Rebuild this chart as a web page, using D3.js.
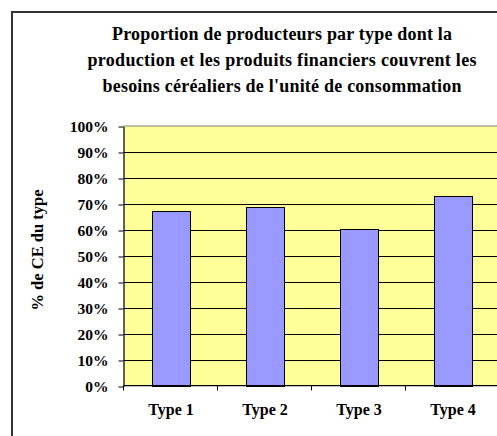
<!DOCTYPE html>
<html><head><meta charset="utf-8">
<script src="https://cdn.jsdelivr.net/npm/d3@7"></script>
<style>html,body{margin:0;padding:0;background:#fff;overflow:hidden}</style>
</head><body>
<script>
const categories = ["Type 1", "Type 2", "Type 3", "Type 4"];
const values = [0.673, 0.687, 0.604, 0.729];
const yTicks = [0, 0.1, 0.2, 0.3, 0.4, 0.5, 0.6, 0.7, 0.8, 0.9, 1.0];
const titleLines = [
  "Proportion de producteurs par type dont la",
  "production et les produits financiers couvrent les",
  "besoins céréaliers de l'unité de consommation"
];
const titleWidths = [340, 389, 359];
const yTitle = "% de CE du type";

const W = 497, H = 436;
const FONT = '"Liberation Serif"';
const svg = d3.select("body").append("svg").attr("width", W).attr("height", H);
function serif(sel, size) {
  return sel.style("font-family", FONT).style("font-weight", "bold")
    .style("font-size", size + "px").style("fill", "#000");
}

// outer chart border (extends beyond image right/bottom)
svg.append("rect").attr("x", 12).attr("y", 12).attr("width", 600).attr("height", 600)
  .attr("fill", "#fff").attr("stroke", "#333").attr("stroke-width", 2);

const plot = {left: 124, top: 126, right: 500, bottom: 386};
const x = d3.scaleBand().domain(categories).range([plot.left, plot.right])
  .paddingInner(0.6).paddingOuter(0.3);
const y = d3.scaleLinear().domain([0, 1]).range([plot.bottom, plot.top]);

// plot area
svg.append("rect").attr("x", plot.left).attr("y", plot.top)
  .attr("width", plot.right - plot.left).attr("height", plot.bottom - plot.top)
  .attr("fill", "#FFFF99").attr("stroke", "#808080").attr("stroke-width", 1);

// gridlines
svg.append("g").selectAll("line").data(yTicks.filter(d => d > 0 && d < 1)).join("line")
  .attr("x1", plot.left).attr("x2", plot.right)
  .attr("y1", d => Math.round(y(d)) + 0.5).attr("y2", d => Math.round(y(d)) + 0.5)
  .attr("stroke", "#000").attr("stroke-width", 1);

// bars
svg.append("g").selectAll("rect").data(values).join("rect")
  .attr("x", (d, i) => Math.round(x(categories[i])) + 0.5)
  .attr("y", d => Math.round(y(d)) + 0.5)
  .attr("width", Math.round(x.bandwidth()))
  .attr("height", d => Math.round(y(0)) - Math.round(y(d)))
  .attr("fill", "#9999FF").attr("stroke", "#000").attr("stroke-width", 1);

// y axis
const yAxis = d3.axisLeft(y).tickValues(yTicks).tickFormat(d3.format(".0%"))
  .tickSizeInner(5).tickSizeOuter(0).tickPadding(10);
const gy = svg.append("g").attr("transform", `translate(${plot.left - 0.5},0.5)`).call(yAxis);
gy.attr("font-family", null).attr("font-size", null);
gy.select(".domain").attr("stroke", "#000");
gy.selectAll(".tick line").attr("stroke", "#000");
serif(gy.selectAll("text"), 15.5).attr("dy", "0.35em");

// x axis
const gx = svg.append("g").attr("transform", `translate(0,${plot.bottom - 0.5})`);
gx.append("line").attr("x1", plot.left).attr("x2", plot.right).attr("stroke", "#000");
const boundaries = categories.map((c, i) => plot.left + i * x.step()).concat([plot.right]);
gx.selectAll("line.t").data(boundaries).join("line").attr("class", "t")
  .attr("x1", d => Math.round(d) - 0.5).attr("x2", d => Math.round(d) - 0.5)
  .attr("y1", 0).attr("y2", 5).attr("stroke", "#000");
serif(gx.selectAll("text").data(categories).join("text"), 16)
  .attr("x", d => x(d) + x.bandwidth() / 2).attr("y", 29)
  .attr("text-anchor", "middle").text(d => d);

// y title
serif(svg.append("text"), 16.5).attr("transform", "translate(43,250) rotate(-90)")
  .attr("text-anchor", "middle").text(yTitle);

// title
serif(svg.append("g").selectAll("text").data(titleLines).join("text"), 18)
  .attr("x", 282).attr("y", (d, i) => 40 + i * 26)
  .attr("text-anchor", "middle")
  .attr("textLength", (d, i) => titleWidths[i]).attr("lengthAdjust", "spacing")
  .text(d => d);
</script>
</body></html>
